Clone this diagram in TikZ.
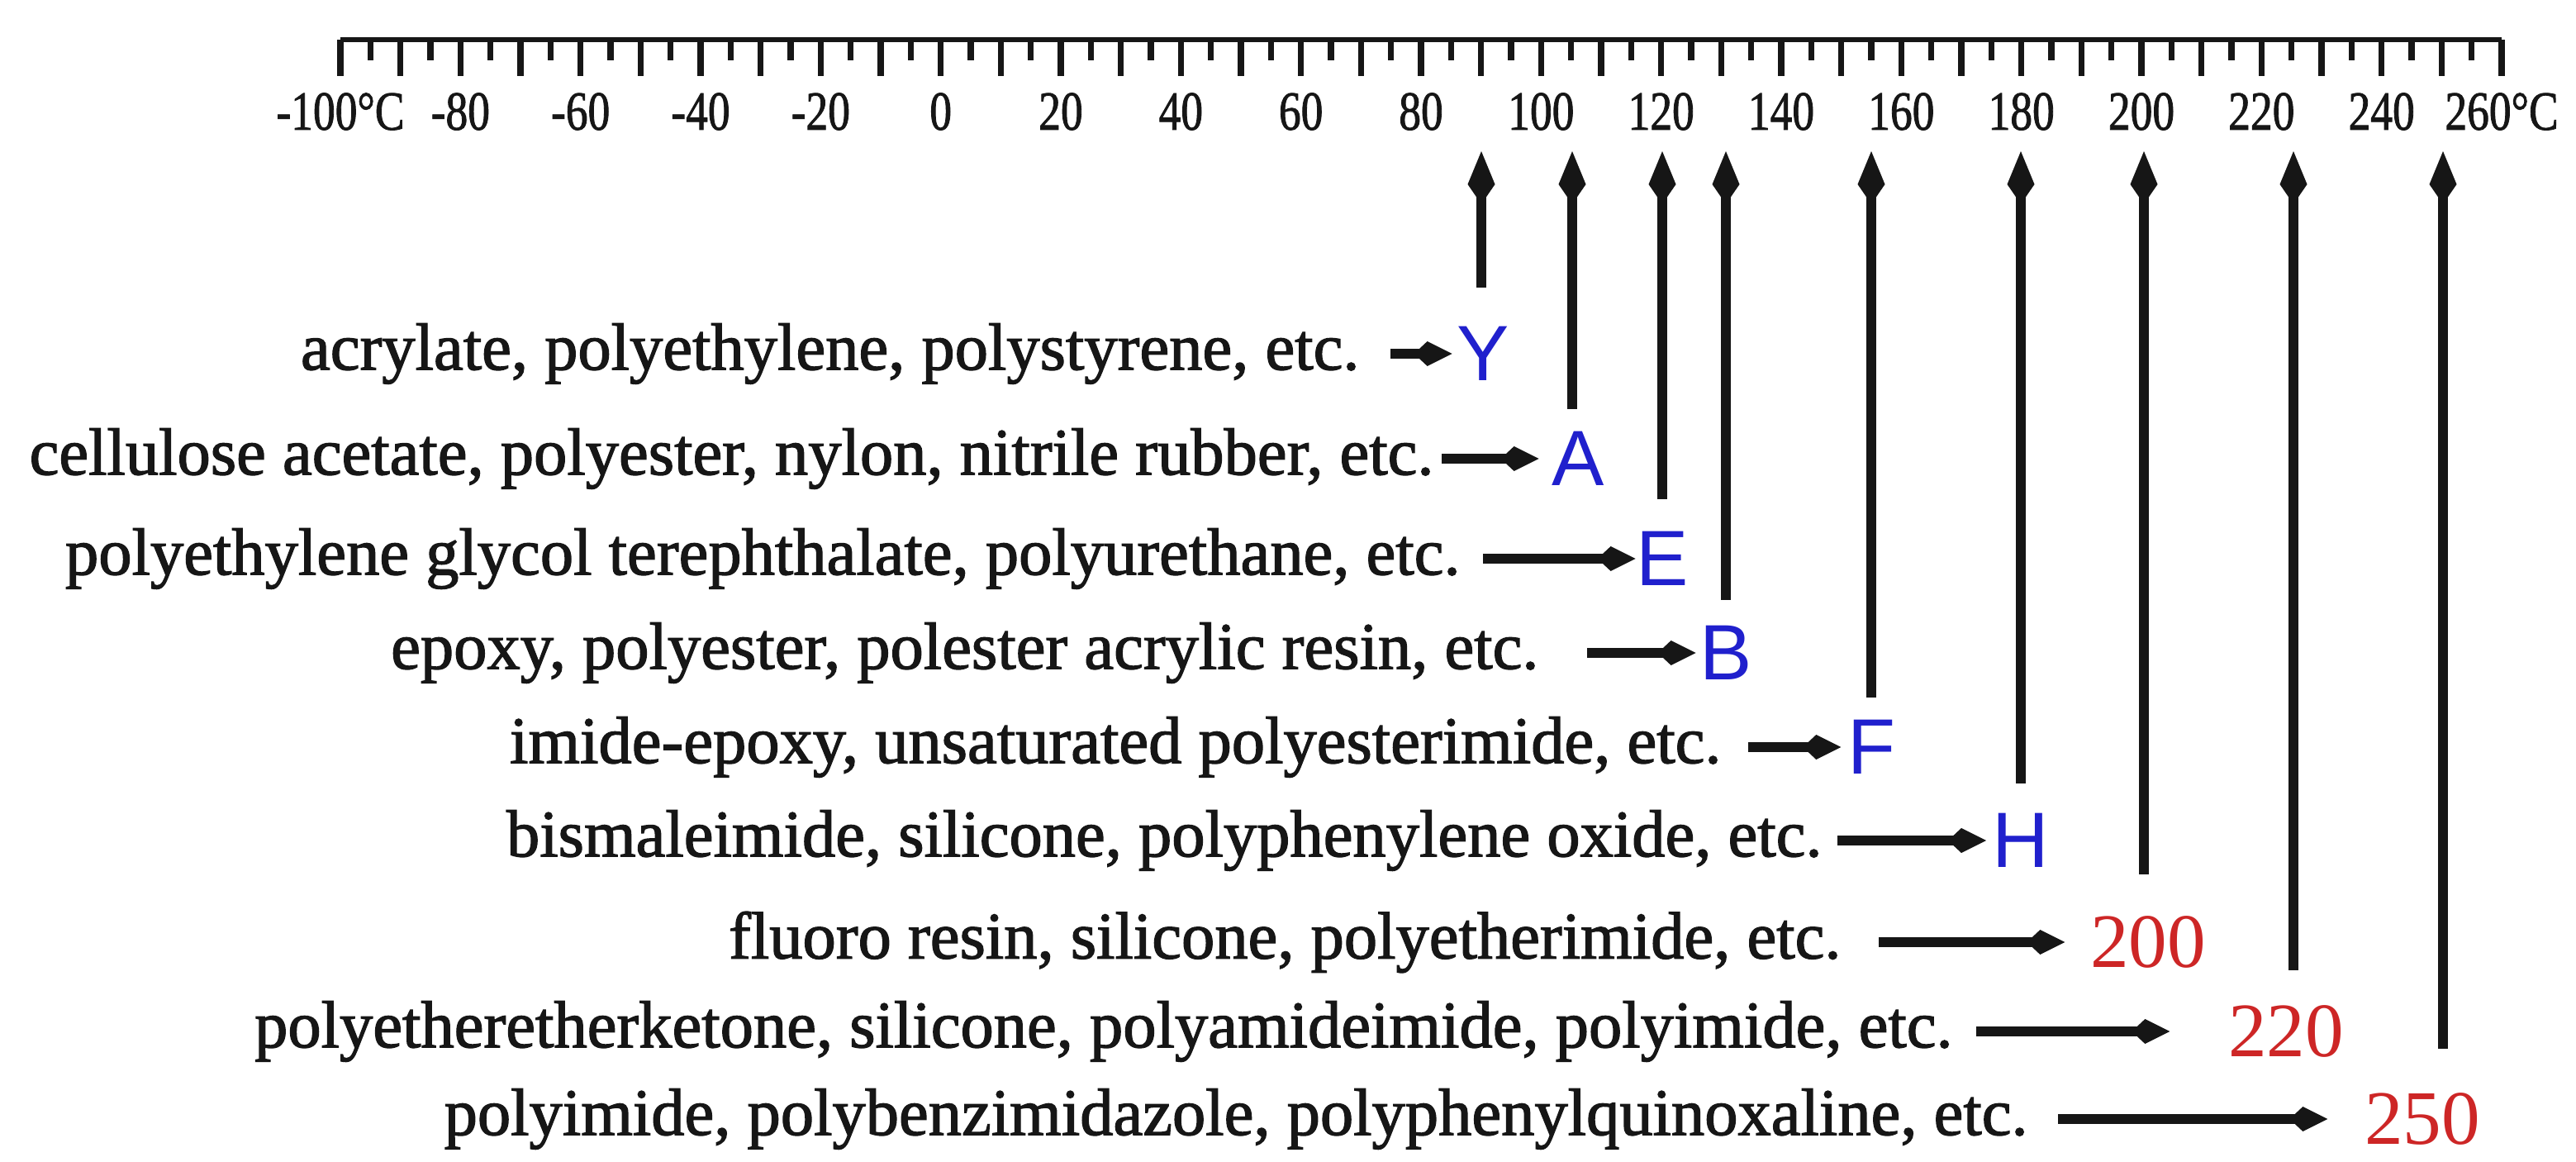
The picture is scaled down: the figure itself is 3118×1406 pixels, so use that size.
\documentclass[tikz,border=0pt]{standalone}
\usepackage{fontspec}
\setmainfont[FakeBold=1.6]{Liberation Serif}
\newfontfamily\classfont{Liberation Sans}
\newfontfamily\numfont{Liberation Serif}
\newfontfamily\rulerfont[FakeStretch=0.8,FakeBold=1.2]{Liberation Serif}
\usetikzlibrary{arrows.meta}
\definecolor{inkblack}{RGB}{22,22,22}
\definecolor{classblue}{RGB}{32,32,205}
\definecolor{tempred}{RGB}{205,38,38}

\tikzset{
  ruleline/.style={inkblack, line width=1.9pt},
  tickmark/.style={inkblack, line width=2.1pt},
  scalelbl/.style={inner sep=0pt, text=inkblack, font=\rulerfont\fontsize{19}{22}\selectfont},
  material/.style={anchor=east, inner sep=0pt, text=inkblack, font=\fontsize{22.9}{27}\selectfont},
  classlbl/.style={inner sep=0pt, text=classblue, font=\classfont\fontsize{27}{30}\selectfont},
  templbl/.style={inner sep=0pt, text=tempred, font=\numfont\fontsize{26.5}{30}\selectfont},
  varrow/.style={inkblack, line width=3.4pt, -{Kite[length=0.64cm,width=0.33cm,inset=0.24cm]}},
  harrow/.style={inkblack, line width=3.4pt, -{Kite[length=0.46cm,width=0.30cm,inset=0.16cm]}},
}

\begin{document}
\begin{tikzpicture}[x=0.01cm,y=-0.01cm]

\path[fill=white] (0,0) rectangle (3118,1406);
\useasboundingbox (0,0) rectangle (3118,1406);

% =========================
% 1. temperature scale
% =========================
\coordinate (ruleL) at (412,48);
\coordinate (ruleR) at (3028,48);
\draw[ruleline] (ruleL) -- (ruleR);

\foreach \i in {0,...,72}{
    \pgfmathsetmacro{\tx}{412+36.333*\i}
    \ifodd\i
        \draw[tickmark] (\tx,48) -- (\tx,73);
    \else
        \draw[tickmark] (\tx,48) -- (\tx,92);
    \fi
}

\node[scalelbl] (scmin) at (412,135) {-100°C};
\foreach \t [count=\k] in {-80,-60,...,240}{
    \node[scalelbl] (sc\k) at ({412+7.2667*(\t+100)},135) {\t};
}
\node[scalelbl] (scmax) at (3028,135) {260°C};

% arrow tips just under the scale
\coordinate (tY) at (1793,183);
\coordinate (tA) at (1903,183);
\coordinate (tE) at (2012,183);
\coordinate (tB) at (2089,183);
\coordinate (tF) at (2265,183);
\coordinate (tH) at (2446,183);
\coordinate (t200) at (2595,183);
\coordinate (t220) at (2776,183);
\coordinate (t250) at (2957,183);

% =========================
% 2. insulation classes
% =========================
\node[material] (mY) at (1646,428) {acrylate, polyethylene, polystyrene, etc.};
\node[classlbl] (cY) at (1795,428) {Y};
\draw[harrow, shorten <=0.37cm, shorten >=0.05cm] (mY) -- (cY);
\draw[varrow, shorten <=0.47cm] (cY.north -| tY) -- (tY);

\node[material] (mA) at (1736,555) {cellulose acetate, polyester, nylon, nitrile rubber, etc.};
\node[classlbl] (cA) at (1910,555) {A};
\draw[harrow, shorten <=0.09cm, shorten >=0.15cm] (mA) -- (cA);
\draw[varrow, shorten <=0.27cm] (cA.north -| tA) -- (tA);

\node[material] (mE) at (1768,676) {polyethylene glycol terephthalate, polyurethane, etc.};
\node[classlbl] (cE) at (2012,676) {E};
\draw[harrow, shorten <=0.27cm] (mE) -- (cE);
\draw[varrow, shorten <=0.39cm] (cE.north -| tE) -- (tE);

\node[material] (mB) at (1863,790) {epoxy, polyester, polester acrylic resin, etc.};
\node[classlbl] (cB) at (2089,790) {B};
\draw[harrow, shorten <=0.58cm, shorten >=0.04cm] (mB) -- (cB);
\draw[varrow, shorten <=0.31cm] (cB.north -| tB) -- (tB);

\node[material] (mF) at (2084,904) {imide-epoxy, unsaturated polyesterimide, etc.};
\node[classlbl] (cF) at (2265,904) {F};
\draw[harrow, shorten <=0.32cm, shorten >=0.07cm] (mF) -- (cF);
\draw[varrow, shorten <=0.27cm] (cF.north -| tF) -- (tF);

\node[material] (mH) at (2206,1017) {bismaleimide, silicone, polyphenylene oxide, etc.};
\node[classlbl] (cH) at (2446,1017) {H};
\draw[harrow, shorten <=0.18cm, shorten >=0.07cm] (mH) -- (cH);
\draw[varrow, shorten <=0.36cm] (cH.north -| tH) -- (tH);

% =========================
% 3. higher classes
% =========================
\node[material] (m200) at (2229,1140) {fluoro resin, silicone, polyetherimide, etc.};
\node[templbl] (c200) at (2600,1140) {200};
\draw[harrow, shorten <=0.45cm, shorten >=0.30cm] (m200) -- (c200);
\draw[varrow, shorten <=0.50cm] (c200.north -| t200) -- (t200);

\node[material] (m220) at (2364,1248) {polyetheretherketone, silicone, polyamideimide, polyimide, etc.};
\node[templbl] (c220) at (2767,1248) {220};
\draw[harrow, shorten <=0.28cm, shorten >=0.70cm] (m220) -- (c220);
\draw[varrow, shorten <=0.42cm] (c220.north -| t220) -- (t220);

\node[material] (m250) at (2455,1354) {polyimide, polybenzimidazole, polyphenylquinoxaline, etc.};
\node[templbl] (c250) at (2932,1354) {250};
\draw[harrow, shorten <=0.36cm, shorten >=0.44cm] (m250) -- (c250);
\draw[varrow, shorten <=0.53cm] (c250.north -| t250) -- (t250);

\end{tikzpicture}
\end{document}
